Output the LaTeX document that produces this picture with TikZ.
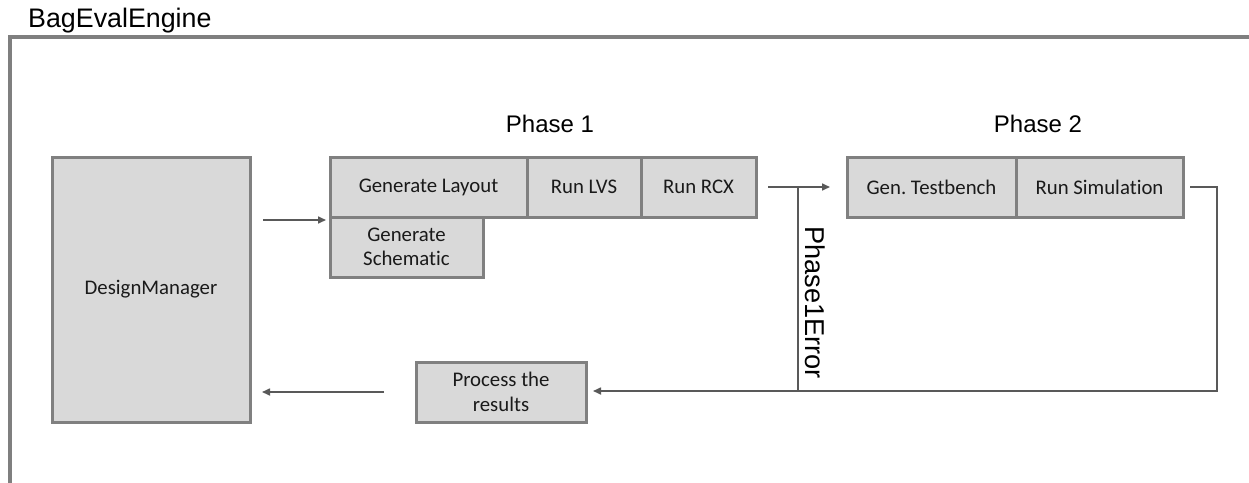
\documentclass[tikz,border=0pt]{standalone}
\usepackage{fontspec}
\setmainfont{Liberation Sans}
\newfontfamily\boxfont[Ligatures=NoCommon]{Carlito}
\usetikzlibrary{arrows.meta}
\definecolor{boxfill}{HTML}{D9D9D9}
\definecolor{boxline}{HTML}{808080}
\definecolor{arrowc}{HTML}{595959}
\definecolor{framec}{HTML}{7F7F7F}
\definecolor{boxtext}{HTML}{1A1A1A}
\frenchspacing
\begin{document}
\begin{tikzpicture}[x=1pt,y=-1pt,
  blk/.style={draw=boxline, fill=boxfill, line width=3pt, inner sep=0pt,
    text=boxtext, font=\boxfont\fontsize{20.8}{24.5}\selectfont, align=center},
  conn/.style={draw=arrowc, line width=1.6pt},
  arr/.style={conn, -{Triangle[length=8pt,width=7pt]}},
  lbl/.style={inner sep=0pt, font=\fontsize{24}{28}\selectfont}
]
\useasboundingbox (0,0) rectangle (1249,482);
% frame
\draw[framec, line width=3.5pt] (10,500) -- (10,37) -- (1260,37);
\node[lbl, anchor=base west, font=\fontsize{26.8}{30}\selectfont] (title) at (28,27.5) {BagEvalEngine};
% boxes
\node[blk, minimum width=198pt, minimum height=265pt] (DM) at (151,289.5) {DesignManager};
\node[blk, minimum width=197pt, minimum height=60pt] (GL) at (428.5,187) {Generate Layout};
\node[blk, minimum width=114pt, minimum height=60pt] (LVS) at (584,187) {Run LVS};
\node[blk, minimum width=115pt, minimum height=60pt] (RCX) at (698.5,187) {Run RCX};
\node[blk, minimum width=153pt, minimum height=60pt] (GS) at (406.5,247) {Generate\\Schematic};
\node[blk, minimum width=169pt, minimum height=60pt] (GT) at (931.5,187) {Gen. Testbench};
\node[blk, minimum width=167pt, minimum height=60pt] (RS) at (1099.5,187) {Run Simulation};
\node[blk, minimum width=170pt, minimum height=60pt] (PR) at (501,392) {Process the\\results};
% labels
\node[lbl] (ph1) at (550,124) {Phase 1};
\node[lbl] (ph2) at (1038,124) {Phase 2};
\node[lbl, rotate=-90, font=\fontsize{27.2}{30}\selectfont] (err) at (815,302.5) {Phase1Error};
% connector coordinates
\coordinate (a1s) at (263,220);
\coordinate (a1e) at (326,220);
\coordinate (a2s) at (768,187);
\coordinate (a2e) at (830,187);
\coordinate (ebr) at (798,187);
\coordinate (bot) at (798,391);
\coordinate (rs1) at (1190,187);
\coordinate (rs2) at (1217,187);
\coordinate (rs3) at (1217,391);
\coordinate (pin) at (593,391);
\coordinate (a4s) at (384,392);
\coordinate (a4e) at (262,392);
% connectors
\draw[arr] (a1s) -- (a1e);
\draw[arr] (a2s) -- (a2e);
\draw[conn] (ebr) -- (bot);
\draw[arr] (rs1) -- (rs2) -- (rs3) -- (pin);
\draw[arr] (a4s) -- (a4e);
\end{tikzpicture}
\end{document}
